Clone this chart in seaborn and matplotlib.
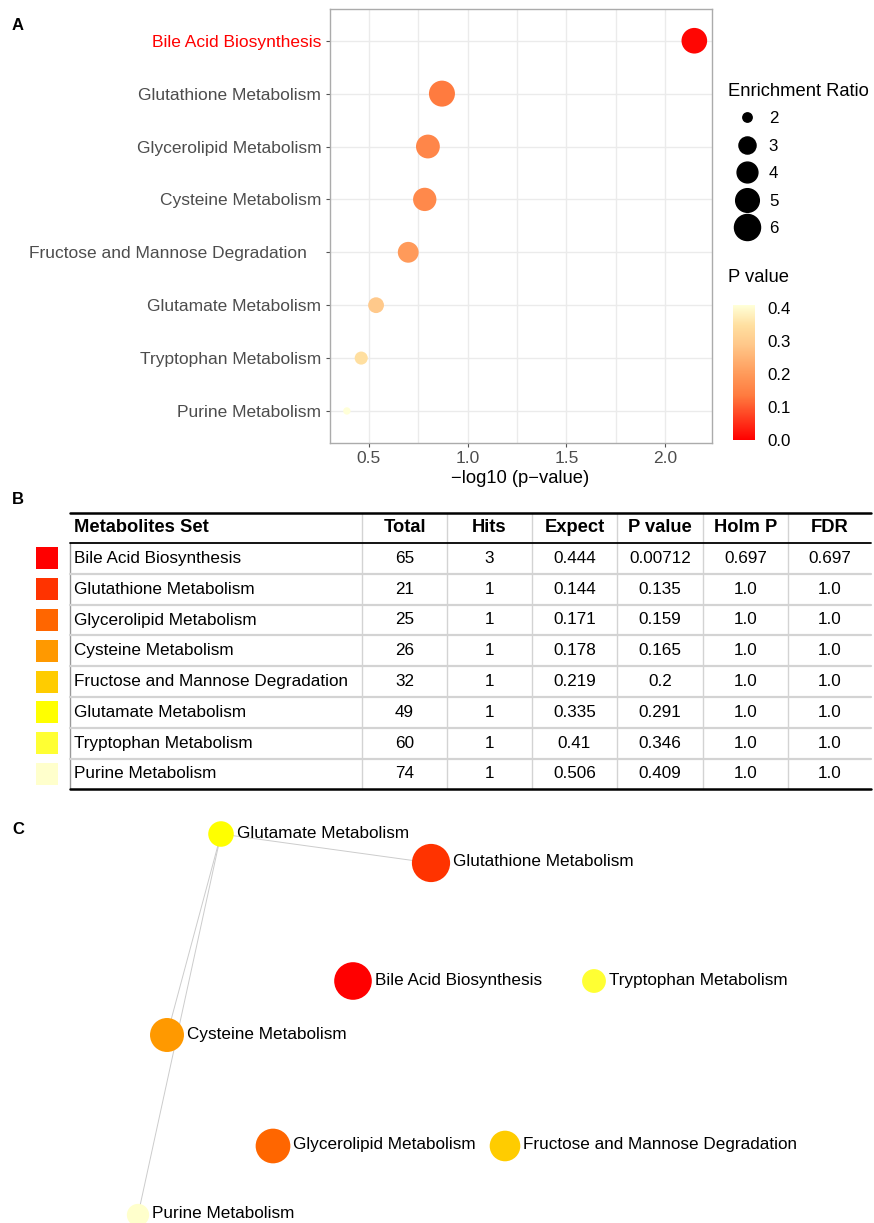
import numpy as np
import pandas as pd
import matplotlib
matplotlib.use("Agg")
import matplotlib.pyplot as plt
from matplotlib.colors import LinearSegmentedColormap, Normalize
from matplotlib.cm import ScalarMappable
from matplotlib.lines import Line2D
from matplotlib.patches import Rectangle
from matplotlib.ticker import MultipleLocator
import seaborn as sns

# ---------------- data ----------------
metabolite_sets = ["Bile Acid Biosynthesis", "Glutathione Metabolism",
                   "Glycerolipid Metabolism", "Cysteine Metabolism",
                   "Fructose and Mannose Degradation", "Glutamate Metabolism",
                   "Tryptophan Metabolism", "Purine Metabolism"]
a_tick_labels = ["Bile Acid Biosynthesis", "Glutathione Metabolism",
                 "Glycerolipid Metabolism", "Cysteine Metabolism",
                 "Fructose and Mannose Degradation   ", "Glutamate Metabolism",
                 "Tryptophan Metabolism", "Purine Metabolism"]
total = [65, 21, 25, 26, 32, 49, 60, 74]
hits = [3, 1, 1, 1, 1, 1, 1, 1]
expect = [0.444, 0.144, 0.171, 0.178, 0.219, 0.335, 0.41, 0.506]
p_value = [0.00712, 0.135, 0.159, 0.165, 0.2, 0.291, 0.346, 0.409]
holm_p = [0.697, 1.0, 1.0, 1.0, 1.0, 1.0, 1.0, 1.0]
fdr = [0.697, 1.0, 1.0, 1.0, 1.0, 1.0, 1.0, 1.0]
table_headers = ["Metabolites Set", "Total", "Hits", "Expect", "P value", "Holm P", "FDR"]
x_ticks = [0.5, 1.0, 1.5, 2.0]
p_ticks = [0.0, 0.1, 0.2, 0.3, 0.4]
er_legend_values = [2, 3, 4, 5, 6]

# network layout (panel C)
net_x = [353, 431, 273, 167, 505, 221, 594, 138]
net_y = [181, 63, 346, 235, 346, 34, 181, 415]
net_edges = [("Glutamate Metabolism", "Glutathione Metabolism"),
             ("Glutamate Metabolism", "Cysteine Metabolism"),
             ("Glutamate Metabolism", "Purine Metabolism")]

# ---------------- styles ----------------
set_colors = ["#FF0000", "#FF3300", "#FF6600", "#FF9900", "#FFCC00",
              "#FFFF00", "#FFFF33", "#FFFFCC"]
pcmap = LinearSegmentedColormap.from_list(
    "pval", [(0.0, "#FF0000"), (0.33, "#FF7B3F"), (0.49, "#FF9A5A"),
             (0.71, "#FFC88A"), (0.85, "#FFDFA0"), (1.0, "#FFFFD8")])

sns.set_style("white")
plt.rcParams['font.family'] = ['Liberation Sans', 'DejaVu Sans']
plt.rcParams['text.color'] = 'black'
plt.rcParams['axes.labelcolor'] = 'black'

W, H = 874, 1223
fig = plt.figure(figsize=(W / 100, H / 100), dpi=100)


def fx(px):
    return px / W


def fy(py):
    return 1 - py / H


PX2PT = 0.72

# ---------------- panel A ----------------
df = pd.DataFrame({"set": metabolite_sets, "hits": hits, "expect": expect, "p": p_value})
df["neglogp"] = -np.log10(df["p"])
df["er"] = df["hits"] / df["expect"]

er_min, er_max = df["er"].min(), df["er"].max()
r_lo, r_hi = 3.7, 13.0  # radius range in px


def er_to_area(v):
    t = np.clip((v - er_min) / (er_max - er_min), 0, 1)
    r = r_lo + (r_hi - r_lo) * np.sqrt(t)
    return (2 * r * PX2PT) ** 2


size_map = {v: er_to_area(v) for v in df["er"]}
pnorm = Normalize(0, df["p"].max())

axA = fig.add_axes([fx(329.5), fy(442.7), fx(711.7 - 329.5), (442.7 - 9) / H])
sns.scatterplot(data=df, x="neglogp", y="set", hue="p", palette=pcmap, hue_norm=pnorm,
                size="er", sizes=size_map, legend=False, linewidth=0, ax=axA, zorder=3)
lo, hi = df["neglogp"].min(), df["neglogp"].max()
rng = hi - lo
axA.set_xlim(lo - 0.05 * rng, hi + 0.05 * rng)
axA.set_ylim(len(metabolite_sets) - 1 + 0.6, -0.6)
axA.set_xticks(x_ticks)
axA.set_xticklabels([f"{t:.1f}" for t in x_ticks])
axA.xaxis.set_minor_locator(MultipleLocator(0.25))
axA.set_yticks(range(len(metabolite_sets)))
axA.set_yticklabels(a_tick_labels)
axA.grid(True, which="major", color="#EBEBEB", lw=1.0)
axA.grid(True, which="minor", axis="x", color="#EBEBEB", lw=1.0)
axA.set_axisbelow(True)
for s in axA.spines.values():
    s.set_color("#ABABAB")
    s.set_linewidth(1.0)
axA.tick_params(axis="both", which="major", length=3, width=0.8, color="#555555",
                labelsize=12.5, labelcolor="#4D4D4D", pad=3, left=True, bottom=True)
axA.tick_params(axis="x", which="minor", length=0)
axA.get_yticklabels()[0].set_color("red")
axA.set_xlabel("\u2212log10 (p\u2212value)", fontsize=13.2, color="black", labelpad=3)
axA.set_ylabel("")

# size legend
fig.text(fx(728), fy(92), "Enrichment Ratio", fontsize=13.2, va="center", ha="left")
handles = [Line2D([], [], marker="o", linestyle="", color="black",
                  markersize=np.sqrt(er_to_area(v)) * 1.08) for v in er_legend_values]
fig.legend(handles, [str(v) for v in er_legend_values], loc="upper left",
           bbox_to_anchor=(fx(735), fy(111)), frameon=False, fontsize=12.2,
           handlelength=1.4, handletextpad=0.6, labelspacing=0.74, borderpad=0,
           borderaxespad=0)

# colorbar
fig.text(fx(728), fy(277), "P value", fontsize=13.2, va="center", ha="left")
cax = fig.add_axes([fx(733), fy(440), fx(22), 135 / H])
sm = ScalarMappable(norm=pnorm, cmap=pcmap)
cb = fig.colorbar(sm, cax=cax, ticks=p_ticks)
cb.outline.set_visible(False)
cax.set_yticklabels([f"{t:.1f}" for t in p_ticks])
cax.tick_params(axis="y", direction="in", color="white", length=4, width=0.8,
                left=True, right=True, labelleft=False, labelright=True,
                labelsize=12.2, pad=9, labelcolor="black")

# ---------------- panel B (table) ----------------
axB = fig.add_axes([0, fy(800), 1, 300 / H])
axB.set_xlim(0, W)
axB.set_ylim(800, 500)
axB.axis("off")

col_edges = [70, 362, 447, 532, 617, 703, 788, 871]
top, head_h, row_h = 513, 30, 30.8
n = len(metabolite_sets)
bottom = top + head_h + n * row_h

for xe in col_edges[1:-1]:
    axB.plot([xe, xe], [top, bottom], color="#D3D3D3", lw=1.0, zorder=1)
axB.plot([col_edges[0], col_edges[0]], [top + head_h, bottom], color="#999999", lw=1.0, zorder=1)
for k in range(1, n):
    yk = top + head_h + k * row_h
    axB.plot([col_edges[0], col_edges[-1]], [yk, yk], color="#D3D3D3", lw=1.6, zorder=1)
axB.plot([col_edges[0], col_edges[-1]], [top, top], color="black", lw=1.8, zorder=2)
axB.plot([col_edges[0], col_edges[-1]], [top + head_h, top + head_h], color="black", lw=1.3, zorder=2)
axB.plot([col_edges[0], col_edges[-1]], [bottom, bottom], color="black", lw=1.8, zorder=2)

hc = top + head_h / 2
for j, h in enumerate(table_headers):
    if j == 0:
        axB.text(col_edges[0] + 4, hc, h, ha="left", va="center", fontsize=13.2,
                 fontweight="bold", color="black")
    else:
        axB.text((col_edges[j] + col_edges[j + 1]) / 2, hc, h, ha="center", va="center",
                 fontsize=13.2, fontweight="bold", color="black")

columns = [metabolite_sets, total, hits, expect, p_value, holm_p, fdr]
for i in range(n):
    rc = top + head_h + (i + 0.5) * row_h
    axB.add_patch(Rectangle((36, rc - 11), 22, 22, facecolor=set_colors[i], edgecolor="none"))
    for j, col in enumerate(columns):
        txt = str(col[i])
        if j == 0:
            axB.text(col_edges[0] + 4, rc, txt, ha="left", va="center", fontsize=12.3,
                     color="black")
        else:
            axB.text((col_edges[j] + col_edges[j + 1]) / 2, rc, txt, ha="center",
                     va="center", fontsize=12.3, color="black")

# ---------------- panel C (network) ----------------
axC = fig.add_axes([0, 0, 1, 423 / H])
axC.set_xlim(0, W)
axC.set_ylim(423, 0)
axC.axis("off")

ndf = pd.DataFrame({"set": metabolite_sets, "x": net_x, "y": net_y, "er": df["er"]})
ndf["r"] = 8 + 1.6 * ndf["er"]
node_sizes = {s: (2 * r * PX2PT) ** 2 for s, r in zip(ndf["set"], ndf["r"])}
pos = {s: (x, y) for s, x, y in zip(ndf["set"], ndf["x"], ndf["y"])}
for a, b in net_edges:
    axC.plot([pos[a][0], pos[b][0]], [pos[a][1], pos[b][1]], color="#CCCCCC",
             lw=0.7, zorder=1)
sns.scatterplot(data=ndf, x="x", y="y", hue="set",
                palette=dict(zip(metabolite_sets, set_colors)),
                size="set", sizes=node_sizes, legend=False, linewidth=0,
                ax=axC, zorder=2, clip_on=False)
axC.set_xlim(0, W)
axC.set_ylim(423, 0)
for s, x, y, r in zip(ndf["set"], ndf["x"], ndf["y"], ndf["r"]):
    axC.text(x + r + 3, y - 1, s, ha="left", va="center", fontsize=12.3, zorder=3,
             color="black")

# panel letters
for lab, yy in [("A", 26), ("B", 500), ("C", 829)]:
    fig.text(fx(12), fy(yy), lab, fontsize=12, fontweight="bold", va="center", ha="left",
             color="black")

fig.savefig("out.png", dpi=100)
